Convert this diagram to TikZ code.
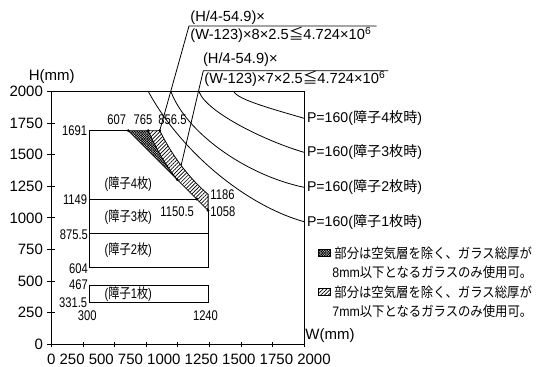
\documentclass[tikz,border=0pt]{standalone}
\usepackage{fontspec}
\setmainfont{Liberation Sans}
\newfontfamily\jp{Noto Sans CJK JP}
\newfontfamily\nlat[FakeStretch=0.8]{Liberation Sans}
\newfontfamily\njp[FakeStretch=0.8]{Noto Sans CJK JP}
\newfontfamily\llat[FakeStretch=0.9]{Liberation Sans}
\newfontfamily\ljp[FakeStretch=0.9]{Noto Sans CJK JP}
\usetikzlibrary{patterns.meta}
\begin{document}
\begin{tikzpicture}[x=0.75pt,y=-0.75pt,line width=0.6pt,
  axl/.style={font=\fontsize{11.25}{13}\selectfont,inner sep=0pt},
  fml/.style={font=\fontsize{11}{13}\selectfont,inner sep=0pt,anchor=base west},
  inl/.style={font=\nlat\fontsize{10.5}{12}\selectfont,inner sep=0pt},
  plbl/.style={font=\fontsize{10.6}{13}\selectfont,inner xsep=2pt,inner ysep=0pt,anchor=west},
  leg/.style={font=\llat\fontsize{10.3}{12}\selectfont,inner sep=0pt,anchor=west},
  dotn/.style={circle,fill,inner sep=0pt,minimum size=2.3pt},
  crossfill/.style={pattern={Hatch[angle=45,distance=1.3pt,line width=0.5pt]}},
  linefill/.style={pattern={Lines[angle=45,distance=2pt,line width=0.5pt]}},
  icon/.style={draw,line width=0.3pt,minimum width=9pt,minimum height=5.5pt,inner sep=0pt}]
\useasboundingbox (0,0) rectangle (551,367);

\begin{scope}[shift={(51.7,344)},x=0.0946pt,y=0.0946pt]
  \draw (0,0) rectangle (2000,2000);
  \foreach \v in {0,250,...,2000}{
    \draw (0,\v) ++(-3.5pt,0) -- ++(6pt,0);
    \draw (\v,0) ++(0,-2pt) -- ++(0,3.8pt);
    \node[axl,anchor=east,xshift=-6.3pt] (yl\v) at (0,\v) {\v};
  }
  \coordinate (p607) at (607,1691);
  \coordinate (p765) at (765,1691);
  \coordinate (p856) at (856.5,1691);
  \coordinate (pX) at (995.3,1302.7);
  \coordinate (p1150) at (1150.5,1149);
  \coordinate (p1058) at (1240,1058);
  \coordinate (p1186) at (1240,1186.3);
  \coordinate (pc2) at (1026,1415.4);
  \coordinate (s1) at (767,2000);
  \coordinate (s2) at (946,2000);
  \coordinate (s3) at (1168,2000);
  \coordinate (s4) at (1445,2000);
  % hatched areas
  \fill[crossfill] (p607) -- (p765) -- plot[domain=765:995.3,samples=30] (\x,{219.6+9448/((\x-123)/100)}) -- cycle;
  \fill[linefill] (p765) -- (p856) -- plot[domain=856.5:1240,samples=40] (\x,{219.6+10797.7/((\x-123)/100)}) -- (p1058) -- (pX) -- plot[domain=995.3:765,samples=30] (\x,{219.6+9448/((\x-123)/100)}) -- cycle;
  \draw (p607) -- (p856) -- plot[domain=856.5:1240,samples=40] (\x,{219.6+10797.7/((\x-123)/100)}) -- (p1058) -- cycle;
  \draw plot[domain=765:995.3,samples=30] (\x,{219.6+9448/((\x-123)/100)});
  % region outlines
  \draw (p607) -- (300,1691) -- (300,604) -- (1240,604) -- (p1058);
  \draw (300,1149) -- (p1150);
  \draw (300,875.5) -- (1240,875.5);
  \draw (300,331.5) rectangle (1240,467);
  \foreach \p in {p607,p765,p856,pX,p1150,p1058}{
    \node[dotn] (d\p) at (\p) {};
  }
\end{scope}

% axis titles and tick label row
\node[axl] (hl) at (51.7,76.7) {H(mm)};
\node[axl,anchor=west] (wl) at (305,336) {W(mm)};
\node[axl,anchor=west] (xl) at (46.7,359) {0 250 500 750 1000 1250 1500 1750 2000};

% inner labels
\node[inl,anchor=east] (n1691) at (87.5,130.7) {1691};
\node[inl] (n607) at (116.7,120) {607};
\node[inl] (n765) at (143,120) {765};
\node[inl] (n856) at (172.5,120) {856.5};
\node[inl] (z4) at (128.3,183.7) {({\njp 障子}4{\njp 枚})};
\node[inl,anchor=east] (n1149) at (87.5,199.7) {1149};
\node[inl] (z3) at (128.3,216.7) {({\njp 障子}3{\njp 枚})};
\node[inl] (n1150) at (177.2,211.7) {1150.5};
\node[inl,anchor=west] (n1186) at (210,194.6) {1186};
\node[inl,anchor=west] (n1058) at (210,211.3) {1058};
\node[inl,anchor=east] (n875) at (88.3,234.2) {875.5};
\node[inl] (z2) at (128.3,250) {({\njp 障子}2{\njp 枚})};
\node[inl,anchor=east] (n604) at (88.3,268.2) {604};
\node[inl,anchor=east] (n467) at (88.3,284.5) {467};
\node[inl] (z1) at (128.3,294) {({\njp 障子}1{\njp 枚})};
\node[inl,anchor=east] (n331) at (87.5,303) {331.5};
\node[inl] (n300) at (87.3,315.5) {300};
\node[inl] (n1240) at (205.5,315.5) {1240};

% formulas with callouts
\node[fml] (t1) at (190,22) {(H/4-54.9)×};
\node[fml] (t2) at (190,40) {(W-123)×8×2.5{\jp ≦}4.724×10\textsuperscript{6}};
\node[fml] (t3) at (202.7,64) {(H/4-54.9)×};
\node[fml] (t4) at (204,84) {(W-123)×7×2.5{\jp ≦}4.724×10\textsuperscript{6}};
\coordinate (f1) at (189,26);
\coordinate (f1e) at (376.7,26);
\coordinate (f2) at (203.3,70.7);
\coordinate (f2e) at (388.3,70.7);
\draw (f1e) -- (f1) -- (p856);
\draw (f2e) -- (f2) -- (pc2);

% P=160 curves
\node[plbl] (l4) at (304,118.3) {P=160({\jp 障子}4{\jp 枚時})};
\node[plbl] (l3) at (304,152.3) {P=160({\jp 障子}3{\jp 枚時})};
\node[plbl] (l2) at (304,187.3) {P=160({\jp 障子}2{\jp 枚時})};
\node[plbl] (l1) at (304,221.7) {P=160({\jp 障子}1{\jp 枚時})};
\draw (s4) .. controls (238,100) and (276,110) .. (l4.west);
\draw (s3) .. controls (207,113) and (268,142) .. (l3.west);
\draw (s2) .. controls (186,132) and (245,175) .. (l2.west);
\draw (s1) .. controls (180,150) and (244,204.7) .. (l1.west);

% legend
\node[icon,crossfill] (i1) at (324,253) {};
\node[leg] (g1) at (334,253) {\ljp 部分は空気層を除く、ガラス総厚が};
\node[leg] (g2) at (332,272.5) {8mm{\ljp 以下となるガラスのみ使用可。}};
\node[icon,linefill] (i2) at (324,292) {};
\node[leg] (g3) at (334,292) {\ljp 部分は空気層を除く、ガラス総厚が};
\node[leg] (g4) at (332,311.5) {7mm{\ljp 以下となるガラスのみ使用可。}};
\end{tikzpicture}
\end{document}
